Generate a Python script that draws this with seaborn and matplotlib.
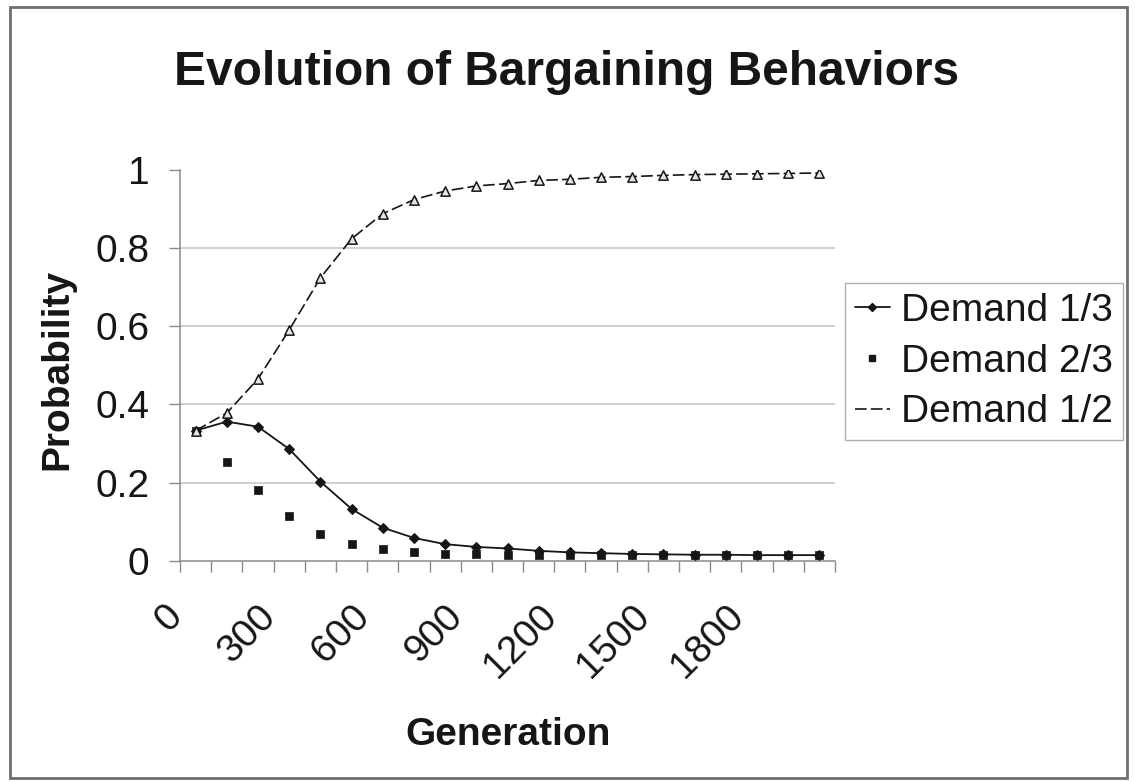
import matplotlib
matplotlib.use("Agg")
import matplotlib.pyplot as plt
import matplotlib.transforms as mtransforms
from matplotlib.patches import Rectangle
from matplotlib.lines import Line2D
import seaborn as sns
import pandas as pd

# ---- data ----
generations = [0, 100, 200, 300, 400, 500, 600, 700, 800, 900, 1000,
               1100, 1200, 1300, 1400, 1500, 1600, 1700, 1800, 1900, 2000]
demand_1_3 = [0.333, 0.356, 0.343, 0.286, 0.203, 0.133, 0.085, 0.059, 0.043, 0.036, 0.032,
              0.026, 0.022, 0.020, 0.018, 0.017, 0.016, 0.016, 0.015, 0.015, 0.015]
demand_2_3 = [0.333, 0.254, 0.181, 0.116, 0.069, 0.043, 0.030, 0.022, 0.018, 0.017, 0.016,
              0.016, 0.015, 0.015, 0.015, 0.015, 0.015, 0.015, 0.015, 0.015, 0.015]
demand_1_2 = [0.333, 0.378, 0.465, 0.590, 0.723, 0.823, 0.887, 0.923, 0.945, 0.958, 0.964,
              0.972, 0.975, 0.980, 0.982, 0.985, 0.987, 0.988, 0.989, 0.990, 0.991]
series_names = ["Demand 1/3", "Demand 2/3", "Demand 1/2"]
x_tick_labels = ["0", "300", "600", "900", "1200", "1500", "1800"]
y_ticks = [0, 0.2, 0.4, 0.6, 0.8, 1]

df = pd.DataFrame({
    "cat": list(range(len(generations))),
    "generation": generations,
    series_names[0]: demand_1_3,
    series_names[1]: demand_2_3,
    series_names[2]: demand_1_2,
})

sns.set_theme(style="white")
plt.rcParams["font.family"] = ["Liberation Sans", "DejaVu Sans"]

W, H = 1135, 782
fig = plt.figure(figsize=(W / 100, H / 100), dpi=100)
fig.patch.set_facecolor("white")

def px_x(v):
    return v / W

def px_y(v):
    return 1 - v / H

left, right, top, bottom = 180, 835, 169.5, 561
ax = fig.add_axes([px_x(left), px_y(bottom), (right - left) / W, (bottom - top) / H])
ax.set_facecolor("white")

ink = "#161616"
grid_c = "#c4c4c4"
axis_c = "#8a8a8a"

sns.lineplot(data=df, x="cat", y=series_names[0], ax=ax, color=ink, lw=1.3,
             marker="D", markersize=5, markerfacecolor=ink, markeredgecolor=ink, zorder=4)
sns.scatterplot(data=df, x="cat", y=series_names[1], ax=ax, color=ink, marker="s",
                s=30, edgecolor=ink, linewidth=0.5, zorder=4)
sns.lineplot(data=df, x="cat", y=series_names[2], ax=ax, color=ink, lw=1.2,
             dashes=False, zorder=3)
ax.lines[-1].set_dashes([7, 2.5])
sns.scatterplot(data=df, x="cat", y=series_names[2], ax=ax, marker="^", s=45,
                facecolor="#e6e6e6", edgecolor=ink, linewidth=1.1, zorder=4)

n = len(generations)
ax.set_xlim(-0.5, n - 0.5)
ax.set_ylim(0, 1)

# y axis
ax.set_yticks(y_ticks)
ax.set_yticklabels([f"{t:g}" for t in y_ticks])
ax.tick_params(axis="y", which="major", length=8, width=1, color=axis_c,
               direction="out", pad=14, labelsize=28, labelcolor=ink, left=True)
ax.yaxis.grid(True, color=grid_c, lw=1.1)
gl = ax.get_ygridlines()
gl[0].set_visible(False)
gl[-1].set_visible(False)

# x axis (category style)
major_pos = list(range(0, n, 3))
ax.set_xticks(major_pos)
ax.set_xticklabels(x_tick_labels)
ax.set_xticks([i - 0.5 for i in range(n + 1)], minor=True)
ax.tick_params(axis="x", which="major", length=0, pad=0, labelsize=28, labelcolor=ink,
               bottom=True)
ax.tick_params(axis="x", which="minor", length=8, width=1, color=axis_c,
               direction="out", bottom=True)
offset = mtransforms.ScaledTranslation(-19 / 100, -50 / 100, fig.dpi_scale_trans)
for lbl in ax.get_xticklabels():
    lbl.set_rotation(45)
    lbl.set_rotation_mode("anchor")
    lbl.set_ha("right")
    lbl.set_va("center")
    lbl.set_transform(lbl.get_transform() + offset)

for s in ["top", "right"]:
    ax.spines[s].set_visible(False)
for s in ["left", "bottom"]:
    ax.spines[s].set_color(axis_c)
    ax.spines[s].set_linewidth(1.1)

ax.set_xlabel("Generation", fontsize=28, fontweight="bold", color=ink)
ax.xaxis.set_label_coords((508 - left) / (right - left), -(735 - bottom) / (bottom - top))
ax.xaxis.label.set_va("center")
ax.set_ylabel("Probability", fontsize=28, fontweight="bold", color=ink)
ax.yaxis.set_label_coords((57 - left) / (right - left), (bottom - 369) / (bottom - top))
ax.yaxis.label.set_va("center")

fig.text(px_x(567), px_y(85), "Evolution of Bargaining Behaviors", fontsize=34.5,
         fontweight="bold", color=ink, ha="center", va="baseline")

handles = [
    Line2D([], [], color=ink, lw=1.3, marker="D", markersize=4),
    Line2D([], [], color=ink, lw=0, marker="s", markersize=4.5),
    Line2D([], [], color=ink, lw=1.2, dashes=[7, 2.5]),
]
leg = fig.legend(handles, series_names, loc="upper left",
                 bbox_to_anchor=(px_x(845), px_y(283)), fontsize=28,
                 frameon=True, fancybox=False, shadow=False, handlelength=0.9,
                 handletextpad=0.3, labelspacing=0.38, borderpad=0.25,
                 borderaxespad=0, labelcolor=ink)
leg.get_frame().set_edgecolor("#9a9a9a")
leg.get_frame().set_linewidth(1.0)

border = Rectangle((px_x(10), px_y(778)), px_x(1127) - px_x(10), px_y(7) - px_y(778),
                   transform=fig.transFigure, fill=False, edgecolor="#6e6e6e", lw=2.0)
fig.patches.append(border)

fig.savefig("out.png", dpi=100, facecolor="white")
